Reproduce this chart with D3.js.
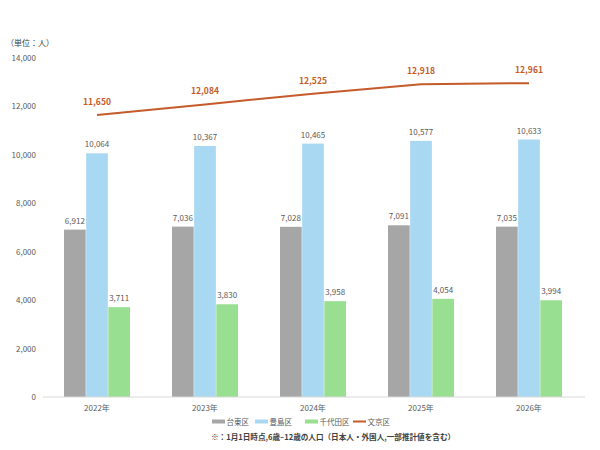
<!DOCTYPE html>
<html>
<head>
<meta charset="utf-8">
<script src="https://cdn.jsdelivr.net/npm/d3@7"></script>
<style>
body { margin: 0; background: #fff; }
text { font-family: "Noto Sans CJK JP", "Noto Sans", sans-serif; }
</style>
</head>
<body>
<div class="container"></div>
<script>
const WIDTH = 600;
const HEIGHT = 450;

var years = ["2022年", "2023年", "2024年", "2025年", "2026年"];
var taito = [6912, 7036, 7028, 7091, 7035];
var toshima = [10064, 10367, 10465, 10577, 10633];
var chiyoda = [3711, 3830, 3958, 4054, 3994];
var bunkyo = [11650, 12084, 12525, 12918, 12961];
var yTicks = [0, 2000, 4000, 6000, 8000, 10000, 12000, 14000];
var barNames = ["台東区", "豊島区", "千代田区"];
var lineName = "文京区";
var colours = ["#a6a6a6", "#a9d9f2", "#99df92"];
var lineColour = "#c55a2b";

var svg = d3.select('.container').append('svg')
    .attr('width', WIDTH)
    .attr('height', HEIGHT);

var xScale = d3.scaleBand().domain(years).range([43, 583]);
var yScale = d3.scaleLinear().domain([0, 14000]).range([397, 58]);
var inner = d3.scaleBand().domain([0, 1, 2]).range([0, 66]).paddingInner(0.02);

// unit label
svg.append('text').attr('x', 6).attr('y', 46)
    .attr('font-size', 8).attr('fill', '#404040').text('（単位：人）');

// y axis labels
svg.append('g').selectAll('text')
    .data(yTicks).enter().append('text')
    .attr('x', 36).attr('y', function(d) { return yScale(d) + 3; })
    .attr('text-anchor', 'end').attr('font-size', 8).attr('fill', '#595959')
    .text(function(d) { return d3.format(',')(d); });

// bars
var series = [taito, toshima, chiyoda];
series.forEach(function(s, k) {
    var g = svg.append('g');
    g.selectAll('rect').data(s).enter().append('rect')
        .attr('x', function(d, i) { return xScale(years[i]) + xScale.bandwidth()/2 - 33 + inner(k); })
        .attr('width', inner.bandwidth())
        .attr('y', function(d) { return yScale(d); })
        .attr('height', function(d) { return yScale(0) - yScale(d); })
        .attr('fill', colours[k]);
    g.selectAll('text').data(s).enter().append('text')
        .attr('x', function(d, i) { return xScale(years[i]) + xScale.bandwidth()/2 - 33 + inner(k) + inner.bandwidth()/2; })
        .attr('y', function(d) { return yScale(d) - 6; })
        .attr('text-anchor', 'middle').attr('font-size', 8).attr('fill', '#595959')
        .text(function(d) { return d3.format(',')(d); });
});

// baseline
svg.append('line').attr('x1', 43).attr('x2', 585)
    .attr('y1', yScale(0)).attr('y2', yScale(0))
    .attr('stroke', '#d9d9d9').attr('stroke-width', 1);

// x labels
svg.append('g').selectAll('text')
    .data(years).enter().append('text')
    .attr('x', function(d) { return xScale(d) + xScale.bandwidth()/2; })
    .attr('y', 411).attr('text-anchor', 'middle').attr('font-size', 8).attr('fill', '#595959')
    .text(function(d) { return d; });

// line
var line = d3.line()
    .x(function(d, i) { return xScale(years[i]) + xScale.bandwidth()/2; })
    .y(function(d) { return yScale(d); });
svg.append('path').attr('d', line(bunkyo))
    .attr('fill', 'none').attr('stroke', lineColour).attr('stroke-width', 2);
svg.append('g').selectAll('text')
    .data(bunkyo).enter().append('text')
    .attr('x', function(d, i) { return xScale(years[i]) + xScale.bandwidth()/2; })
    .attr('y', function(d) { return yScale(d) - 10; })
    .attr('text-anchor', 'middle').attr('font-size', 8.5).attr('font-weight', 'bold')
    .attr('fill', lineColour)
    .text(function(d) { return d3.format(',')(d); });

// legend
var legendX = [212, 255, 305, 353];
var legend = svg.append('g');
barNames.forEach(function(n, k) {
    legend.append('rect').attr('x', legendX[k]).attr('y', 419.5)
        .attr('width', 13).attr('height', 4).attr('fill', colours[k]);
    legend.append('text').attr('x', legendX[k] + 14.5).attr('y', 424.5)
        .attr('font-size', 7.5).attr('fill', '#595959').text(n);
});
legend.append('line').attr('x1', legendX[3]).attr('x2', legendX[3] + 13)
    .attr('y1', 421.5).attr('y2', 421.5).attr('stroke', lineColour).attr('stroke-width', 2);
legend.append('text').attr('x', legendX[3] + 14.5).attr('y', 424.5)
    .attr('font-size', 7.5).attr('fill', '#595959').text(lineName);

// note
svg.append('text').attr('x', 211).attr('y', 440)
    .attr('font-size', 7.6).attr('font-weight', 'bold').attr('fill', '#404040')
    .text('※：1月1日時点,6歳–12歳の人口（日本人・外国人,一部推計値を含む）');
</script>
</body>
</html>
